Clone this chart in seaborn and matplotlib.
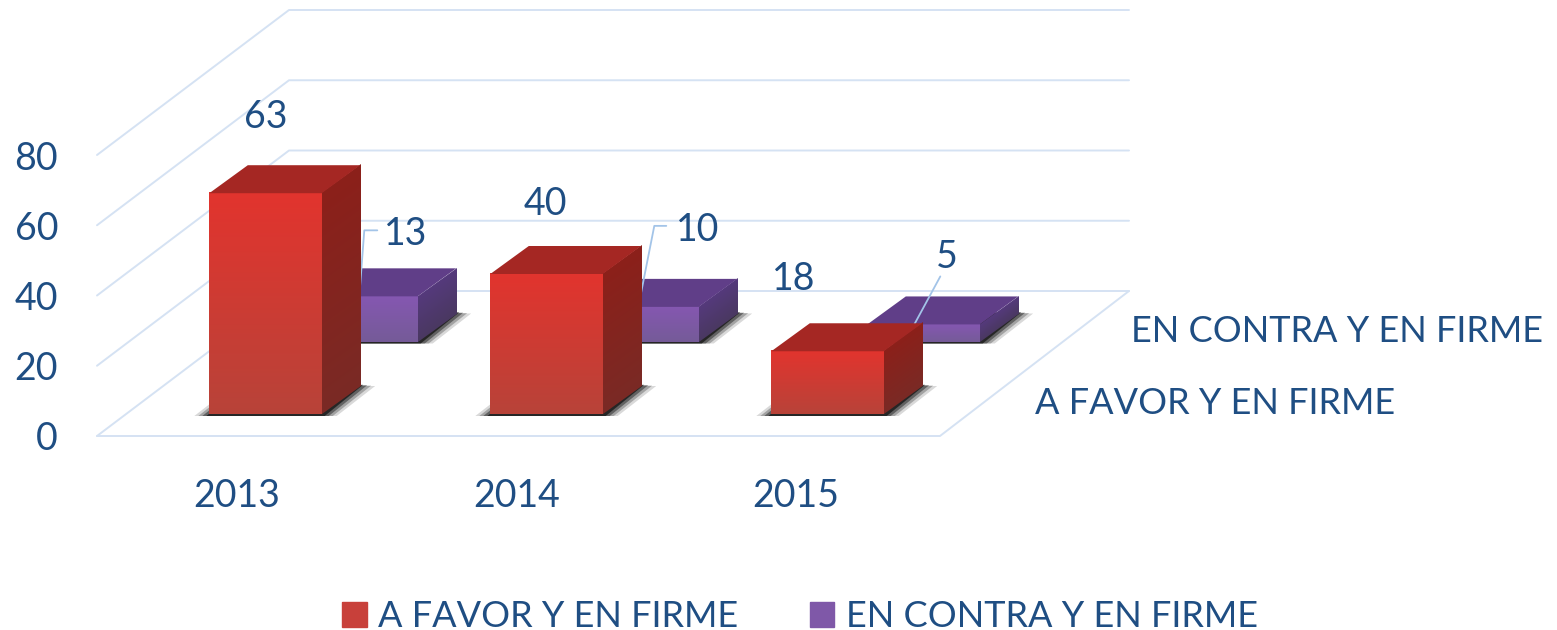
import numpy as np
import pandas as pd
import matplotlib.pyplot as plt
import seaborn as sns
from matplotlib.colors import LinearSegmentedColormap
from matplotlib.lines import Line2D
from matplotlib.patches import Patch, Polygon
from matplotlib.transforms import Affine2D, IdentityTransform

years = ["2013", "2014", "2015"]
series_names = ["A FAVOR Y EN FIRME", "EN CONTRA Y EN FIRME"]
favor = [63, 40, 18]
contra = [13, 10, 5]
y_ticks = [0, 20, 40, 60, 80]

W, H = 1557, 630
TEXT = "#1f4e83"
GRID = "#d5e2f3"
WALL = (192, 145)
DEPTH = (38.5, 28)

sns.set_style("white")
plt.rcParams["font.family"] = ["Lato", "DejaVu Sans"]
FS = 26
FS_NUM = 27

df = pd.DataFrame({
    "year": years * 2,
    "value": favor + contra,
    "serie": [series_names[0]] * 3 + [series_names[1]] * 3,
})

fig = plt.figure(figsize=(W / 100, H / 100), dpi=100)
ax = fig.add_axes([97 / W, (H - 436) / H, 843 / W, 281 / H])
sns.barplot(data=df, x="year", y="value", hue="serie", dodge=False, width=0.4,
            palette=["#c8403a", "#7f58a8"], legend=False, ax=ax)
sns.despine(ax=ax, left=True, bottom=True)
ax.set_xlabel("")
ax.set_ylabel("")
ax.set_xlim(-0.5, 2.5)
ax.set_ylim(0, 80)
ax.set_yticks(y_ticks)
ax.tick_params(axis="y", length=0, pad=28, labelsize=FS_NUM, labelcolor=TEXT)
ax.tick_params(axis="x", length=0, pad=30, labelsize=FS_NUM, labelcolor=TEXT)
ax.patch.set_alpha(0)
ax.grid(False)

# year labels sit slightly closer together than the bars
for label, nudge in zip(ax.get_xticklabels(), [-1, -2, -4]):
    label.set_transform(label.get_transform() + Affine2D().translate(nudge, 0))

px = IdentityTransform()


def draw_line(xs, ys, color=GRID, lw=1.4, z=1):
    ax.add_line(Line2D(xs, ys, color=color, lw=lw, transform=px, clip_on=False, zorder=z))


# floor and walls
x_left, x_right = ax.transData.transform([(-0.5, 0), (2.5, 0)])[:, 0]
for tick in y_ticks:
    y0 = ax.transData.transform((0, tick))[1]
    draw_line([x_left, x_left + WALL[0], x_right + WALL[0] - 3], [y0, y0 + WALL[1], y0 + WALL[1]])
y0 = ax.transData.transform((0, 0))[1]
draw_line([x_left, x_right, x_right + WALL[0] - 3], [y0, y0, y0 + WALL[1]])


def add_shadow(x0, x1, y, z):
    # footprint of the bar on the floor, widened in layers to fake a blur
    for grow, alpha in [(15, 0.15), (11, 0.25), (7, 0.40), (3, 0.60)]:
        lift = 2 - grow * 0.1
        pts = [(x0 - grow, y - 1.5), (x1 + grow, y - 1.5),
               (x1 + DEPTH[0] + grow, y + DEPTH[1] + lift), (x0 + DEPTH[0] - grow, y + DEPTH[1] + lift)]
        ax.add_patch(Polygon(pts, closed=True, fc="black", ec="none", alpha=alpha,
                             transform=px, clip_on=False, zorder=z))


def gradient_face(pts_box, cmap, z, transform=px):
    grad = np.linspace(0, 1, 128).reshape(-1, 1)
    x0, x1, y0, y1 = pts_box
    return ax.imshow(grad, cmap=cmap, extent=(x0, x1, y0, y1), aspect="auto", origin="upper",
                     transform=transform, zorder=z, clip_on=False, interpolation="bilinear")


def side_face(x1, y0, y1, cmap, z):
    # unit square sheared onto the side of the bar
    shear = Affine2D.from_values(DEPTH[0], DEPTH[1], 0, y1 - y0, x1, y0)
    gradient_face((0, 1, 0, 1), cmap, z, transform=shear)


def face_colors(c_top, c_bottom):
    return LinearSegmentedColormap.from_list("f", [c_top, c_bottom])


styles = [
    dict(shift=(28, 21.5), front=face_colors("#e2342e", "#b84339"), top="#a52723",
         side=face_colors("#8c201a", "#7a2a25"), z=5),
    dict(shift=(124, 94), front=face_colors("#8557b1", "#755b98"), top="#603e88",
         side=face_colors("#553a7c", "#4a3861"), z=3),
]

bar_tops = {0: [], 1: []}
for s, (container, style) in enumerate(zip(ax.containers, styles)):
    dx, dy = style["shift"]
    z = style["z"]
    for bar in container:
        (x0, y0), (x1, y1) = ax.transData.transform(
            [(bar.get_x(), 0), (bar.get_x() + bar.get_width(), bar.get_height())])
        x0, x1, y0, y1 = x0 + dx, x1 + dx, y0 + dy, y1 + dy
        bar.set_visible(False)
        add_shadow(x0, x1, y0, z - 0.5)
        side_face(x1, y0, y1, style["side"], z)
        gradient_face((x0, x1, y0, y1), style["front"], z)
        top = [(x0, y1), (x1, y1), (x1 + DEPTH[0], y1 + DEPTH[1]), (x0 + DEPTH[0], y1 + DEPTH[1])]
        ax.add_patch(Polygon(top, closed=True, fc=style["top"], ec="none", transform=px,
                             clip_on=False, zorder=z))
        bar_tops[s].append((x0, x1, y1))

ax.set_xlim(-0.5, 2.5)
ax.set_ylim(0, 80)

# data labels, offsets from the front top edge of each bar
favor_offsets = [(0, 76), (-1, 70), (-34, 72)]
contra_offsets = [(44, 62), (55, 77), (23, 67)]
for (x0, x1, top), val, off in zip(bar_tops[0], favor, favor_offsets):
    ax.text((x0 + x1) / 2 + off[0], top + off[1], str(val), transform=px, color=TEXT, fontsize=FS_NUM,
            ha="center", va="center", zorder=8, clip_on=False)
for (x0, x1, top), val, off in zip(bar_tops[1], contra, contra_offsets):
    ax.text((x0 + x1) / 2 + off[0], top + off[1], str(val), transform=px, color=TEXT, fontsize=FS_NUM,
            ha="center", va="center", zorder=8, clip_on=False)

# leader lines for the back series
leaders = [[(-1, 0), (4, 66), (17, 66)], [(-2, 0), (14, 81), (26, 81)], [(-8, 0), (18, 48)]]
anchors = [bar_tops[1][0][0] + 55, bar_tops[1][1][0] + 54, bar_tops[1][2][0] + 55]
for anchor, (x0, x1, top), leader in zip(anchors, bar_tops[1], leaders):
    xs = [anchor + p[0] for p in leader]
    ys = [top + p[1] for p in leader]
    draw_line(xs, ys, color="#a3c4e8", lw=1.3, z=3.5)

# depth axis labels
for name, x, y in zip(series_names, [1035, 1131], [403, 332]):
    ax.text(x, H - y, name, transform=px, color=TEXT, fontsize=FS, ha="left", va="center", clip_on=False)

handles = [Patch(color="#c8403a", label=series_names[0]), Patch(color="#7f58a8", label=series_names[1])]
leg = fig.legend(handles=handles, loc="lower center", bbox_to_anchor=(800 / W, -3 / H), ncol=2, frameon=False,
                 fontsize=FS, labelcolor=TEXT, handlelength=0.67, handleheight=0.67,
                 handletextpad=0.31, columnspacing=2.0, borderpad=0, borderaxespad=0)

fig.canvas.draw()
for patch, style in zip(leg.get_patches(), styles):
    b = patch.get_window_extent()
    gradient_face((b.x0, b.x1, b.y0, b.y1), style["front"], 9)
ax.set_xlim(-0.5, 2.5)
ax.set_ylim(0, 80)

fig.savefig("out.png", dpi=100, facecolor="white")
